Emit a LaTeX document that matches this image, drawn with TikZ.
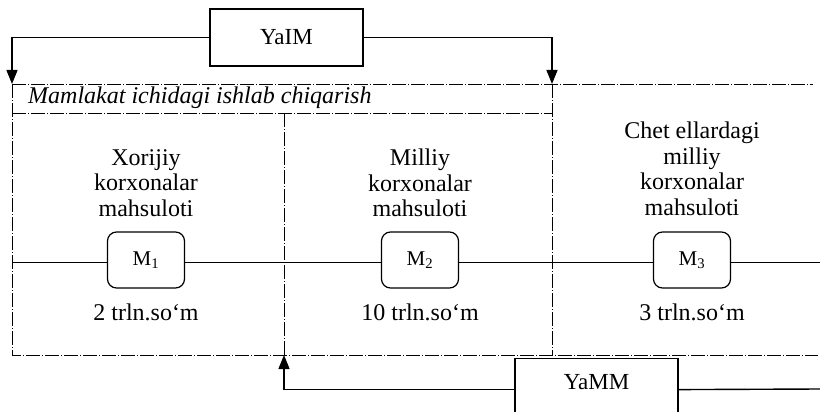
\documentclass[tikz,border=0pt]{standalone}
\usepackage{fontspec}
\setmainfont{Liberation Serif}
\usetikzlibrary{positioning,arrows.meta,calc}
\tikzset{
  ybox/.style ={rectangle, draw=black, line width=1.2pt, fill=white,
                minimum width=153pt, minimum height=57pt, font=\fontsize{23}{26}\selectfont},
  mbox/.style ={rectangle, rounded corners=9pt, draw=black, line width=1.2pt, fill=white,
                minimum width=77pt, minimum height=56pt, font=\fontsize{21}{24}\selectfont},
  lbl/.style  ={align=center, inner sep=0pt, font=\fontsize{24}{25.5}\selectfont},
  arr/.style  ={-{Triangle[length=14pt, width=11pt]}, line width=1.4pt},
  conn/.style ={line width=1.4pt},
  bord/.style ={line width=0.7pt, dash pattern=on 14pt off 2pt on 1pt off 2pt},
  flow/.style ={line width=0.9pt},
}

\begin{document}
\begin{tikzpicture}[x=1pt, y=-1pt]
  \useasboundingbox (0,0) rectangle (820,412);
  \clip (0,0) rectangle (820,412);

  % region borders
  \coordinate (tl) at (12,84);
  \coordinate (tm) at (552,84);
  \coordinate (tr) at (813,84);
  \coordinate (bl) at (12,355);
  \coordinate (bm) at (284,355);
  \coordinate (bn) at (552,355);
  \coordinate (br) at (818,355);
  \coordinate (ul) at (12,113);
  \coordinate (um) at (284,113);
  \coordinate (ur) at (552,113);
  \draw[bord] (tl) -- (tr);
  \draw[bord] (ul) -- (ur);
  \draw[bord] (tl) -- (bl) -- (br);
  \draw[bord] (um) -- (bm);
  \draw[bord] (tm) -- (bn);
  \node[anchor=west, inner sep=0pt, font=\itshape\fontsize{24}{26}\selectfont] (inner) at (28,98)
    {Mamlakat ichidagi ishlab chiqarish};

  % goods
  \node[lbl] (t1) at (146,183) {Xorijiy\\korxonalar\\mahsuloti};
  \node[lbl] (t2) at (420,183) {Milliy\\korxonalar\\mahsuloti};
  \node[lbl] (t3) at (692,169) {Chet ellardagi\\milliy\\korxonalar\\mahsuloti};
  \node[mbox] (m1) at (146,260) {M\textsubscript{1}};
  \node[mbox] (m2) at (420,260) {M\textsubscript{2}};
  \node[mbox] (m3) at (692,260) {M\textsubscript{3}};
  \node[lbl] (v1) at (146,312) {2 trln.so‘m};
  \node[lbl] (v2) at (420,312) {10 trln.so‘m};
  \node[lbl] (v3) at (692,312) {3 trln.so‘m};
  \coordinate (fl) at (12,262);
  \coordinate (fr) at (820,262);
  \draw[flow] (fl) -- (fl -| m1.west);
  \draw[flow] (m1.east |- fl) -- (m2.west |- fl);
  \draw[flow] (m2.east |- fl) -- (m3.west |- fl);
  \draw[flow] (m3.east |- fl) -- (fr);

  % totals
  \node[ybox] (yaim) at (286.5,37.5) {YaIM};
  \node[ybox, anchor=north, text height=31pt, text depth=41pt, inner ysep=0pt,
        minimum width=163pt] (yamm) at (596.5,358) {YaMM};
  \draw[arr] (yaim.west) -| (tl);
  \draw[arr] (yaim.east) -| (tm);
  \draw[arr] (yamm.base west) -| (bm);
  \coordinate (ye) at (820,389);
  \draw[conn] (yamm.base east) -- (ye);
\end{tikzpicture}
\end{document}
